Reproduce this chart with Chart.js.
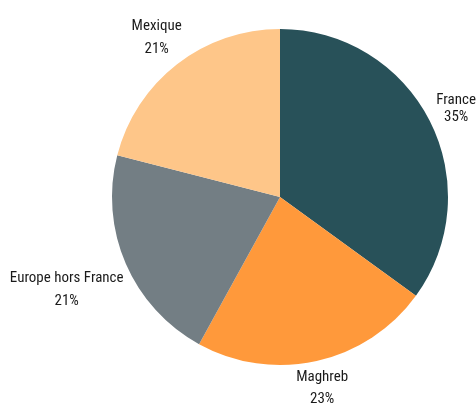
<!DOCTYPE html>
<html>
<head>
<meta charset="utf-8">
<script src="https://cdn.jsdelivr.net/npm/chart.js@4/dist/chart.umd.min.js"></script>
<style>
  html, body { margin: 0; padding: 0; background: #fff; }
  #wrap { width: 476px; height: 403px; }
</style>
</head>
<body>
<div id="wrap"><canvas id="pie"></canvas></div>
<script>
// ---- Data ----
const categories = ["France", "Maghreb", "Europe hors France", "Mexique"];
const shares = [35, 23, 21, 21];
const sliceColors = ["#285159", "#FF993B", "#737E84", "#FEC689"];

// label layout tweaks (pixels): nudge x, nudge y, gap between the two lines
const labelNudge = [
  [-1, 0, 17],
  [-3, -3, 22],
  [5, 13, 23],
  [3, -5, 23],
];

// ---- Outside labels (name + percent) ----
const outsideLabels = {
  id: "outsideLabels",
  afterDatasetsDraw(chart) {
    const ctx = chart.ctx;
    const meta = chart.getDatasetMeta(0);
    const capHalf = 5.3;
    ctx.save();
    ctx.font = "15px 'Roboto Condensed', 'DejaVu Sans Condensed', sans-serif";
    ctx.fillStyle = "#1a1a1a";
    ctx.textAlign = "center";
    ctx.textBaseline = "alphabetic";
    meta.data.forEach((arc, i) => {
      const p = arc.getProps(["x", "y", "startAngle", "endAngle", "outerRadius"], true);
      const mid = (p.startAngle + p.endAngle) / 2;
      const cos = Math.cos(mid), sin = Math.sin(mid);
      const d = p.outerRadius + 13;
      const name = categories[i];
      const pct = shares[i] + "%";
      const w = Math.max(ctx.measureText(name).width, ctx.measureText(pct).width);
      const [nx, ny, gap] = labelNudge[i];
      let cx = p.x + cos * d + cos * w / 2 + nx;
      cx = Math.min(cx, chart.width - w / 2);
      const cy = p.y + sin * d + sin * 16 + ny;
      ctx.fillText(name, cx, cy - gap / 2 + capHalf);
      ctx.fillText(pct, cx, cy + gap / 2 + capHalf);
    });
    ctx.restore();
  },
};

// ---- Chart ----
const chart = new Chart(document.getElementById("pie"), {
  type: "pie",
  data: {
    labels: categories,
    datasets: [
      {
        data: shares,
        backgroundColor: sliceColors,
        borderWidth: 0,
      },
    ],
  },
  options: {
    responsive: true,
    maintainAspectRatio: false,
    animation: false,
    layout: {
      padding: { left: 112, right: 28, top: 29, bottom: 38 },
    },
    plugins: {
      legend: { display: false },
      tooltip: { enabled: false },
    },
  },
  plugins: [outsideLabels],
});
</script>
</body>
</html>
